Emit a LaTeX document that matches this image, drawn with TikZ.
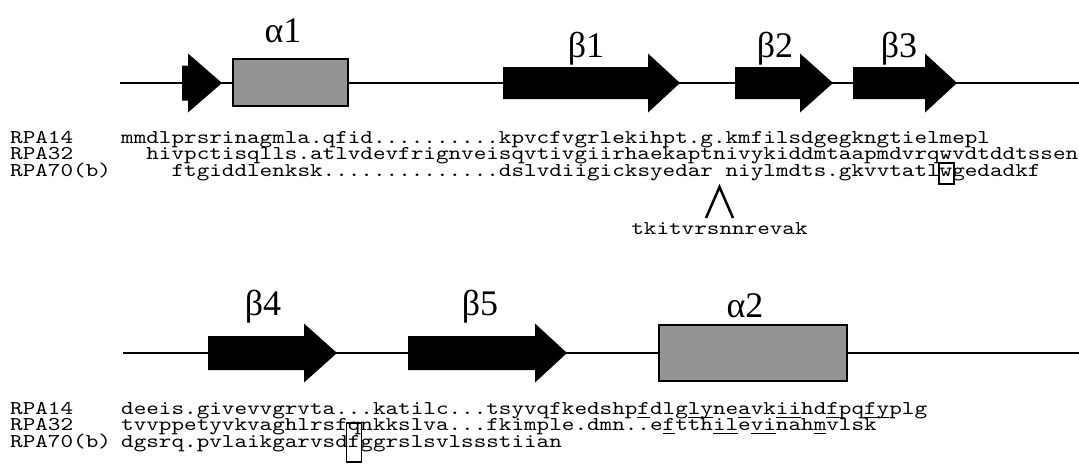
\documentclass[tikz,border=0pt]{standalone}
\usepackage{fontspec}
\newfontfamily\seqfont{lmmono10-regular.otf}[FakeStretch=1.23]
\newfontfamily\grkfont{Liberation Serif}
\newcommand{\undl}[1]{\setbox0\hbox{#1}\rlap{\rule[-3.8pt]{\wd0}{1.3pt}}#1}
\newcommand{\bstrand}[5]{%
  \fill (#1,#4-#5) -- (#2,#4-#5) -- (#2,#4-29.5) -- (#3,#4) -- (#2,#4+29.5) -- (#2,#4+#5) -- (#1,#4+#5) -- cycle;}
\begin{document}
\begin{tikzpicture}[x=1pt,y=-1pt,
  seq/.style={anchor=base west, inner sep=0pt, font=\seqfont\fontsize{19.5}{19.5}\selectfont},
  lab/.style={anchor=base, inner sep=0pt, font=\grkfont\fontsize{36}{36}\selectfont},
  backbone/.style={line width=2pt},
  helix/.style={draw, line width=2pt, fill=black!42, inner sep=0pt},
  markbox/.style={draw, line width=1.6pt, inner sep=0pt},
  caret/.style={line width=2.5pt}]
\useasboundingbox (0,0) rectangle (1079,466);
\fill[white] (0,0) rectangle (1079,466);
% ---------- upper structure ----------
\coordinate (ua) at (120,83);
\coordinate (ub) at (1079,83);
\draw[backbone] (ua) -- (ub);
\bstrand{182}{188}{222}{83}{17.5}
\node[helix, minimum width=115pt, minimum height=47pt] (a1) at (290.5,82.5) {};
\bstrand{503}{648}{680}{83}{16}
\bstrand{735}{800}{833}{83}{16}
\bstrand{853}{925}{957}{83}{16}
\node[lab] (la1) at (283,42) {α1};
\node[lab] (lb1) at (586,57) {β1};
\node[lab] (lb2) at (775,57) {β2};
\node[lab] (lb3) at (899,57) {β3};
% ---------- upper alignment ----------
\node[seq] (n14a) at (10,143) {RPA14};
\node[seq] (n32a) at (10,159.5) {RPA32};
\node[seq] (n70a) at (10,176) {RPA70(b)};
\node[seq] (s14a) at (121,143) {mmdlprsrinagmla.qfid..........kpvcfvgrlekihpt.g.kmfilsdgegkngtielmepl};
\node[seq] (s32a) at (146.2,159.5) {hivpctisqlls.atlvdevfrignveisqvtivgiirhaekaptnivykiddmtaapmdvrqwvdtddtssen};
\node[seq] (s70a) at (171.4,176) {ftgiddlenksk..............dslvdiigicksyedar niylmdts.gkvvtatlwgedadkf};
\node[markbox, minimum width=15pt, minimum height=21pt] (wbox) at (946.3,173.5) {};
\coordinate (capex) at (719.5,187);
\coordinate (capl) at (706,218);
\coordinate (capr) at (733,218);
\draw[caret] (capl) -- (capex) -- (capr);
\node[seq, anchor=base] (ins) at (719.5,234) {tkitvrsnnrevak};
% ---------- lower structure ----------
\coordinate (la) at (123,353);
\coordinate (lb) at (1079,353);
\draw[backbone] (la) -- (lb);
\bstrand{208}{304}{337}{353}{17}
\bstrand{408}{535}{567}{353}{17}
\node[helix, minimum width=188pt, minimum height=56pt] (a2) at (753,353) {};
\node[lab] (lb4) at (263,315) {β4};
\node[lab] (lb5) at (480,315) {β5};
\node[lab] (la2) at (745,317) {α2};
% ---------- lower alignment ----------
\node[seq] (n14b) at (10,414) {RPA14};
\node[seq] (n32b) at (10,430.5) {RPA32};
\node[seq] (n70b) at (10,447) {RPA70(b)};
\node[seq] (s14b) at (121,414) {deeis.givevvgrvta...katilc...tsyvqfkedshp\undl{f}dlg\undl{ly}ne\undl{a}vk\undl{ii}hd\undl{f}pq\undl{fy}plg};
\node[seq] (s32b) at (121,430.5) {tvvppetyvkvaghlrsfqnkkslva...fkimple.dmn..e\undl{f}tth\undl{il}e\undl{vi}nah\undl{m}vlsk};
\node[seq] (s70b) at (121,447) {dgsrq.pvlaikgarvsdfggrslsvlssstiian};
\node[markbox, minimum width=15pt, minimum height=39pt] (fbox) at (354.1,442.5) {};
\end{tikzpicture}
\end{document}
